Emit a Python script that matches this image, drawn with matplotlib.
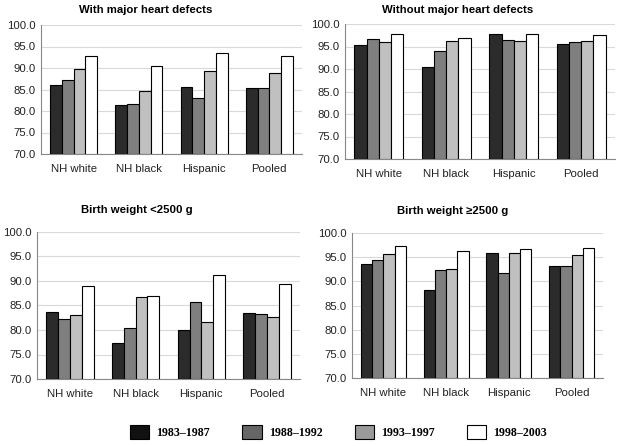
import numpy as np
import matplotlib
matplotlib.use('Agg')
import matplotlib.pyplot as plt
from matplotlib.patches import Patch

plt.rcParams['font.family'] = ['Liberation Sans', 'DejaVu Sans']

# groups and periods
groups = ['NH white', 'NH black', 'Hispanic', 'Pooled']
periods = ['1983\u20131987', '1988\u20131992', '1993\u20131997', '1998\u20132003']
titles = ['With major heart defects', 'Without major heart defects',
          'Birth weight <2500 g', 'Birth weight \u22652500 g']

# values per panel: rows = groups, cols = periods
with_heart = [[86.0, 87.1, 89.8, 92.8],
              [81.5, 81.7, 84.7, 90.5],
              [85.5, 83.0, 89.4, 93.5],
              [85.3, 85.3, 88.9, 92.7]]
without_heart = [[95.3, 96.7, 96.0, 97.7],
                 [90.5, 93.9, 96.3, 96.9],
                 [97.8, 96.4, 96.2, 97.8],
                 [95.5, 96.0, 96.2, 97.5]]
bw_low = [[83.6, 82.3, 83.0, 88.9],
          [77.3, 80.4, 86.8, 87.0],
          [80.1, 85.8, 81.6, 91.3],
          [83.4, 83.3, 82.7, 89.3]]
bw_high = [[93.6, 94.4, 95.7, 97.3],
           [88.2, 92.4, 92.6, 96.2],
           [95.9, 91.7, 95.9, 96.7],
           [93.2, 93.1, 95.4, 96.8]]
panels = [with_heart, without_heart, bw_low, bw_high]

bar_colors = ['#2b2b2b', '#7f7f7f', '#c0c0c0', '#ffffff']
legend_colors = ['#111111', '#666666', '#9a9a9a', '#ffffff']

W, H = 621, 446
fig = plt.figure(figsize=(W / 100, H / 100), dpi=100)

# axes boxes in pixel coords: left, top, right, bottom
boxes = [(41, 25, 302, 154), (345, 24, 615, 159),
         (37, 232, 300, 379), (352, 233, 603, 378)]
# title centres in pixel coords
title_pos = [(146, 10), (458, 10), (137, 210), (453, 211)]

width = 0.18
x = np.arange(len(groups))
for box, tpos, title, data in zip(boxes, title_pos, titles, panels):
    l, t, r, b = box
    ax = fig.add_axes([l / W, 1 - b / H, (r - l) / W, (b - t) / H])
    data = np.array(data)
    for j in range(len(periods)):
        ax.bar(x + (j - 1.5) * width, data[:, j] - 70, width, bottom=70,
               color=bar_colors[j], edgecolor='black', linewidth=0.8, zorder=3)
    ax.set_ylim(70, 100)
    ax.set_xlim(-0.5, 3.5)
    ax.set_yticks(np.arange(70, 101, 5))
    ax.set_yticklabels([f'{v:.1f}' for v in np.arange(70, 101, 5)])
    ax.set_xticks(x)
    ax.set_xticklabels(groups)
    ax.yaxis.grid(True, color='#d9d9d9', linewidth=0.8, zorder=0)
    ax.tick_params(axis='both', labelsize=8.2, length=0, pad=4,
                   labelcolor='#222222')
    ax.tick_params(axis='x', pad=7)
    for s in ['top', 'right']:
        ax.spines[s].set_visible(False)
    ax.spines['left'].set_color('#888888')
    ax.spines['bottom'].set_color('#888888')
    tx, ty = tpos
    ax.text((tx - l) / (r - l), (b - ty) / (b - t), title, transform=ax.transAxes,
            ha='center', va='center', fontsize=8.2, fontweight='bold')

handles = [Patch(facecolor=c, edgecolor='black', linewidth=0.8) for c in legend_colors]
fig.legend(handles, periods, loc='center', bbox_to_anchor=(338.5 / W, 1 - 432 / H),
           ncol=4, frameon=False, handlelength=1.6, handleheight=1.35,
           columnspacing=2.7, handletextpad=0.6,
           prop={'family': 'Liberation Serif', 'weight': 'bold', 'size': 8.6})

fig.savefig('out.png', dpi=100)
